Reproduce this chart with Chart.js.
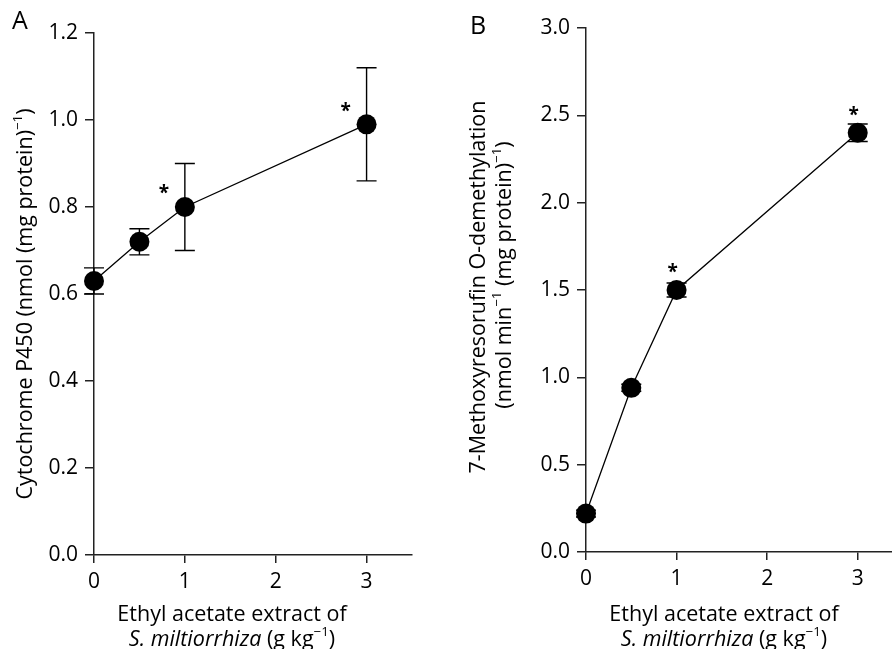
<!DOCTYPE html>
<html>
<head>
<meta charset="utf-8">
<script src="https://cdn.jsdelivr.net/npm/chart.js@4/dist/chart.umd.min.js"></script>
<style>
  html, body { margin: 0; padding: 0; background: #fff; }
  #wrap { position: relative; width: 892px; height: 649px; overflow: hidden; }
  .panel { position: absolute; top: 0; height: 649px; overflow: hidden; }
  #panelA { left: 0; width: 446px; }
  #panelB { left: 446px; width: 446px; }
</style>
</head>
<body>
<div id="wrap">
  <div class="panel" id="panelA"><div style="width:446px;height:649px"><canvas id="chartA"></canvas></div></div>
  <div class="panel" id="panelB"><div style="width:467px;height:649px"><canvas id="chartB"></canvas></div></div>
</div>
<script>
// ── Data ────────────────────────────────────────────────────────────────
const dose     = [0, 0.5, 1, 3];          // g kg-1
const p450     = [0.63, 0.72, 0.80, 0.99];
const p450Err  = [0.03, 0.03, 0.10, 0.13];
const p450Sig  = [false, false, true, true];
const mrod     = [0.22, 0.94, 1.50, 2.40];
const mrodErr  = [0.02, 0.02, 0.04, 0.05];
const mrodSig  = [false, false, true, true];
const xTicks   = [0, 1, 2, 3];
const yTicksA  = [0, 0.2, 0.4, 0.6, 0.8, 1.0, 1.2];
const yTicksB  = [0, 0.5, 1.0, 1.5, 2.0, 2.5, 3.0];

const FONT = '"Open Sans", "Noto Sans", sans-serif';
const INK  = '#000';
const AXIS = '#222';
const TITLE_SIZE = 21.5;

// ── Rich text helper (italic + superscript runs) ────────────────────────
function drawRich(ctx, segs, cx, cy, size) {
    const fontOf = s => (s.italic ? 'italic ' : '') + (s.sup ? size * 0.62 : size) + 'px ' + FONT;
    let total = 0;
    segs.forEach(s => { ctx.font = fontOf(s); s.w = ctx.measureText(s.t).width; total += s.w; });
    let x = cx - total / 2;
    ctx.textAlign = 'left';
    ctx.textBaseline = 'alphabetic';
    segs.forEach(s => {
        ctx.font = fontOf(s);
        ctx.fillText(s.t, x, cy + size * 0.35 - (s.sup ? size * 0.42 : 0));
        x += s.w;
    });
}

// ── Error bars, significance marks and labels ───────────────────────────
const decorPlugin = {
    id: 'decor',
    beforeDatasetsDraw(chart, args, o) {
        const { ctx, scales: { x, y } } = chart;
        ctx.save();
        ctx.strokeStyle = INK;
        ctx.lineWidth = 1.4;
        o.values.forEach((v, i) => {
            const px = x.getPixelForValue(dose[i]);
            const hi = y.getPixelForValue(v + o.err[i]);
            const lo = y.getPixelForValue(v - o.err[i]);
            ctx.beginPath();
            ctx.moveTo(px, hi); ctx.lineTo(px, lo);
            ctx.moveTo(px - 10, hi); ctx.lineTo(px + 10, hi);
            ctx.moveTo(px - 10, lo); ctx.lineTo(px + 10, lo);
            ctx.stroke();
        });
        ctx.restore();
    },
    afterDraw(chart, args, o) {
        const { ctx, scales: { x, y } } = chart;
        ctx.save();
        ctx.fillStyle = INK;
        // asterisks
        ctx.font = 'bold 19px ' + FONT;
        ctx.textAlign = 'center';
        ctx.textBaseline = 'middle';
        o.values.forEach((v, i) => {
            if (!o.sig[i]) return;
            ctx.fillText('*', x.getPixelForValue(dose[i]) + o.starDx, y.getPixelForValue(v) + o.starDy);
        });
        // panel letter
        ctx.font = '25px ' + FONT;
        ctx.fillText(o.letter, o.letterX, o.letterY);
        // x title
        drawRich(ctx, [{ t: 'Ethyl acetate extract of' }], o.xTitleX, 613, TITLE_SIZE);
        drawRich(ctx, [{ t: 'S. miltiorrhiza', italic: true }, { t: ' (g kg' }, { t: '\u22121', sup: true }, { t: ')' }],
                 o.xTitleX, 638, TITLE_SIZE);
        // y title lines
        o.yTitle.forEach(line => {
            ctx.save();
            ctx.translate(line.x, line.y);
            ctx.rotate(-Math.PI / 2);
            drawRich(ctx, line.segs, 0, 0, TITLE_SIZE);
            ctx.restore();
        });
        ctx.restore();
    }
};

function makeChart(id, values, err, sig, yTicks, yMax, cfg) {
    const tickFont = { family: FONT, size: 21 };
    return new Chart(document.getElementById(id), {
        type: 'scatter',
        data: {
            datasets: [{
                data: dose.map((d, i) => ({ x: d, y: values[i] })),
                showLine: true,
                borderColor: INK,
                borderWidth: 1.3,
                backgroundColor: '#000',
                pointRadius: 10,
                pointHoverRadius: 10,
                pointBorderWidth: 0,
                clip: false
            }]
        },
        options: {
            responsive: true,
            maintainAspectRatio: false,
            animation: false,
            events: [],
            layout: { padding: cfg.padding },
            plugins: {
                legend: { display: false },
                tooltip: { enabled: false },
                decor: { values, err, sig, ...cfg.decor }
            },
            scales: {
                x: {
                    type: 'linear', min: 0, max: 3.5,
                    afterBuildTicks: s => { s.ticks = xTicks.map(v => ({ value: v })); },
                    afterFit: s => { s.height = cfg.xHeight; },
                    ticks: { font: tickFont, color: INK, padding: 6, maxRotation: 0, callback: v => String(v) },
                    grid: { drawOnChartArea: false, tickLength: 8, color: AXIS, lineWidth: 1.5 },
                    border: { color: AXIS, width: 1.5 }
                },
                y: {
                    type: 'linear', min: 0, max: yMax,
                    afterBuildTicks: s => { s.ticks = yTicks.map(v => ({ value: v })); },
                    afterFit: s => { s.width = cfg.yWidth; },
                    ticks: { font: tickFont, color: INK, padding: 7, callback: v => v.toFixed(1) },
                    grid: { drawOnChartArea: false, tickLength: 9, color: AXIS, lineWidth: 1.5 },
                    border: { color: AXIS, width: 1.5 }
                }
            }
        },
        plugins: [decorPlugin]
    });
}

makeChart('chartA', p450, p450Err, p450Sig, yTicksA, 1.2, {
    padding: { left: 0, right: 34, top: 33, bottom: 0 },
    xHeight: 94, yWidth: 94,
    decor: {
        letter: 'A', letterX: 20, letterY: 22,
        starDx: -21, starDy: -13,
        xTitleX: 232,
        yTitle: [{ x: 24, y: 304, segs: [{ t: 'Cytochrome P450 (nmol (mg protein)' }, { t: '\u22121', sup: true }, { t: ')' }] }]
    }
});

makeChart('chartB', mrod, mrodErr, mrodSig, yTicksB, 3.0, {
    padding: { left: 0, right: 10, top: 28, bottom: 0 },
    xHeight: 97, yWidth: 140,
    decor: {
        letter: 'B', letterX: 32, letterY: 27,
        starDx: -4, starDy: -17,
        xTitleX: 278,
        yTitle: [
            { x: 31, y: 287, segs: [{ t: '7-Methoxyresorufin O-demethylation' }] },
            { x: 57, y: 275, segs: [{ t: '(nmol min' }, { t: '\u22121', sup: true }, { t: ' (mg protein)' }, { t: '\u22121', sup: true }, { t: ')' }] }
        ]
    }
});
</script>
</body>
</html>
